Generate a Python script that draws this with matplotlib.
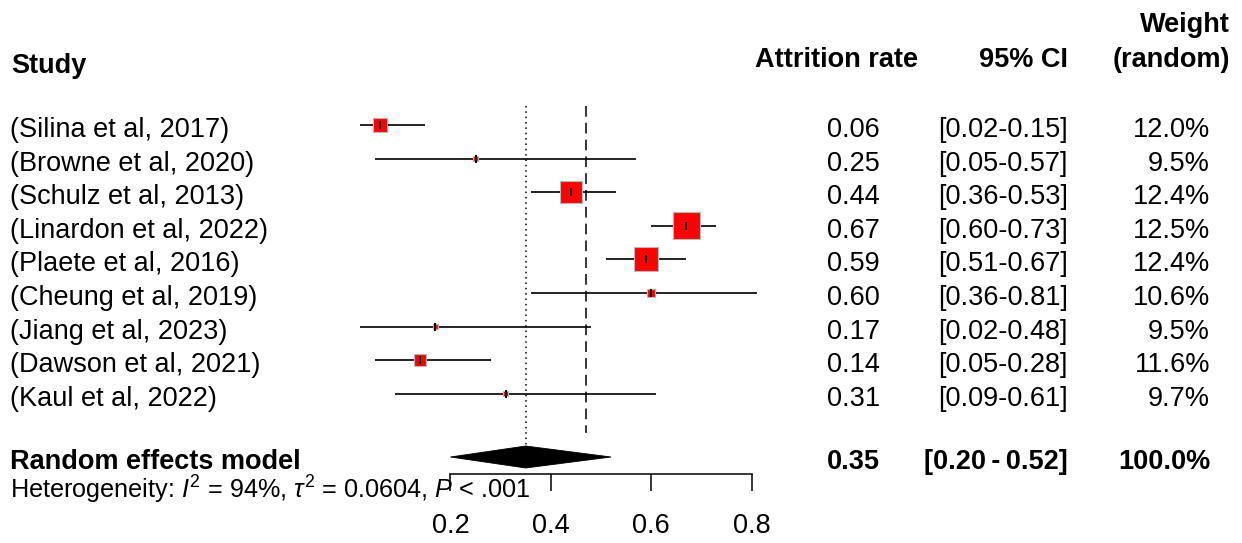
import matplotlib
matplotlib.use("Agg")
import matplotlib.pyplot as plt
import matplotlib.transforms as mtransforms
import numpy as np

plt.rcParams["font.family"] = ["Liberation Sans", "DejaVu Sans"]
plt.rcParams["mathtext.fontset"] = "custom"
plt.rcParams["mathtext.rm"] = "Liberation Sans"
plt.rcParams["mathtext.it"] = "Liberation Sans:italic"

# data
studies = ["(Silina et al, 2017)", "(Browne et al, 2020)", "(Schulz et al, 2013)",
           "(Linardon et al, 2022)", "(Plaete et al, 2016)", "(Cheung et al, 2019)",
           "(Jiang et al, 2023)", "(Dawson et al, 2021)", "(Kaul et al, 2022)"]
rate = [0.06, 0.25, 0.44, 0.67, 0.59, 0.60, 0.17, 0.14, 0.31]
ci_low = [0.02, 0.05, 0.36, 0.60, 0.51, 0.36, 0.02, 0.05, 0.09]
ci_high = [0.15, 0.57, 0.53, 0.73, 0.67, 0.81, 0.48, 0.28, 0.61]
weight_random = [12.0, 9.5, 12.4, 12.5, 12.4, 10.6, 9.5, 11.6, 9.7]
# common-effect weights
weight_common = [8.6, 1.1, 21.3, 32.1, 25.4, 2.8, 1.1, 6.3, 1.1]

re_est, re_low, re_high, re_weight = 0.35, 0.20, 0.52, 100.0
common_est = 0.47
het_text = r"Heterogeneity: $I^2$ = 94%, $\tau^2$ = 0.0604, $P$ < .001"
ticks = [0.2, 0.4, 0.6, 0.8]

W, H = 1242, 543
FS = 19.5
PX_PER_UNIT = 502.0
X0_PX = 350.0
ROW_PX = 33.6
ROW1_PX = 125.0
AXIS_PX = 474.0

fig = plt.figure(figsize=(W / 100, H / 100), dpi=100)
ax = fig.add_axes([0, (H - AXIS_PX) / H, 1, AXIS_PX / H])
ax.set_xlim(-X0_PX / PX_PER_UNIT, (W - X0_PX) / PX_PER_UNIT)
ax.set_ylim(1 + (AXIS_PX - ROW1_PX) / ROW_PX, 1 - ROW1_PX / ROW_PX)


def prow(py):
    # convert a pixel height in the image to a row coordinate
    return 1 + (py - ROW1_PX) / ROW_PX


tx = mtransforms.blended_transform_factory(fig.transFigure, ax.transData)


def fx(px):
    return px / W


rows = np.arange(1, len(studies) + 1)
re_row = prow(457)

# reference lines: common (dashed) and random (dotted)
ax.plot([common_est, common_est], [prow(106), prow(433)], color="black",
        lw=1.1, ls=(0, (7, 4)))
ax.plot([re_est, re_est], [prow(106), prow(447)], color="black",
        lw=1.1, ls=(0, (1, 2.5)))

# confidence intervals
ax.hlines(rows, ci_low, ci_high, color="black", lw=1.2)

# boxes, area proportional to common weight
side_px = 4.77 * np.sqrt(weight_common)
ax.scatter(rate, rows, marker="s", s=(side_px * 0.72) ** 2, color="red",
           edgecolors="#b8b8b8", linewidths=0.8, zorder=3)
ax.plot(rate, rows, ls="none", marker="|", ms=6, mew=1.4, color="black", zorder=4)

# pooled diamond
dh = 11 / ROW_PX
ax.fill([re_low, re_est, re_high, re_est], [re_row, re_row - dh, re_row, re_row + dh],
        color="black", lw=0.6)

# axis
for s in ["top", "right", "left"]:
    ax.spines[s].set_visible(False)
ax.spines["bottom"].set_bounds(ticks[0], ticks[-1])
ax.spines["bottom"].set_linewidth(1.1)
ax.set_xticks(ticks)
ax.set_xticklabels([f"{t:.1f}" for t in ticks], fontsize=FS)
ax.tick_params(axis="x", length=12, width=1.1, pad=16)
ax.set_yticks([])

# headers
hb = dict(fontsize=FS, fontweight="bold", va="baseline", transform=tx)
ax.text(fx(11), prow(73), "Study", ha="left", **hb)
ax.text(fx(918), prow(67), "Attrition rate", ha="right", **hb)
ax.text(fx(1068), prow(67), "95% CI", ha="right", **hb)
ax.text(fx(1230), prow(67), "(random)", ha="right", **hb)
ax.text(fx(1230), prow(32), "Weight", ha="right", **hb)

# study rows
base = 12 / ROW_PX
for r, name, m, lo, hi, w in zip(rows, studies, rate, ci_low, ci_high, weight_random):
    kw = dict(fontsize=FS, va="baseline", transform=tx)
    ax.text(fx(10), r + base, name, ha="left", **kw)
    ax.text(fx(880), r + base, f"{m:.2f}", ha="right", **kw)
    ax.text(fx(1068), r + base, f"[{lo:.2f}-{hi:.2f}]", ha="right", **kw)
    ax.text(fx(1210), r + base, f"{w:.1f}%", ha="right", **kw)

# pooled row
kb = dict(fontsize=FS, fontweight="bold", va="baseline", transform=tx)
ax.text(fx(10), prow(469), "Random effects model", ha="left", **kb)
ax.text(fx(880), prow(469), f"{re_est:.2f}", ha="right", **kb)
ax.text(fx(1068), prow(469), f"[{re_low:.2f}\u2009-\u2009{re_high:.2f}]", ha="right", **kb)
ax.text(fx(1210), prow(469), f"{re_weight:.1f}%", ha="right", **kb)

ax.text(fx(10), prow(499), het_text, ha="left", va="baseline", fontsize=18.2,
        transform=tx, clip_on=False)

fig.savefig("out.png", dpi=100)
